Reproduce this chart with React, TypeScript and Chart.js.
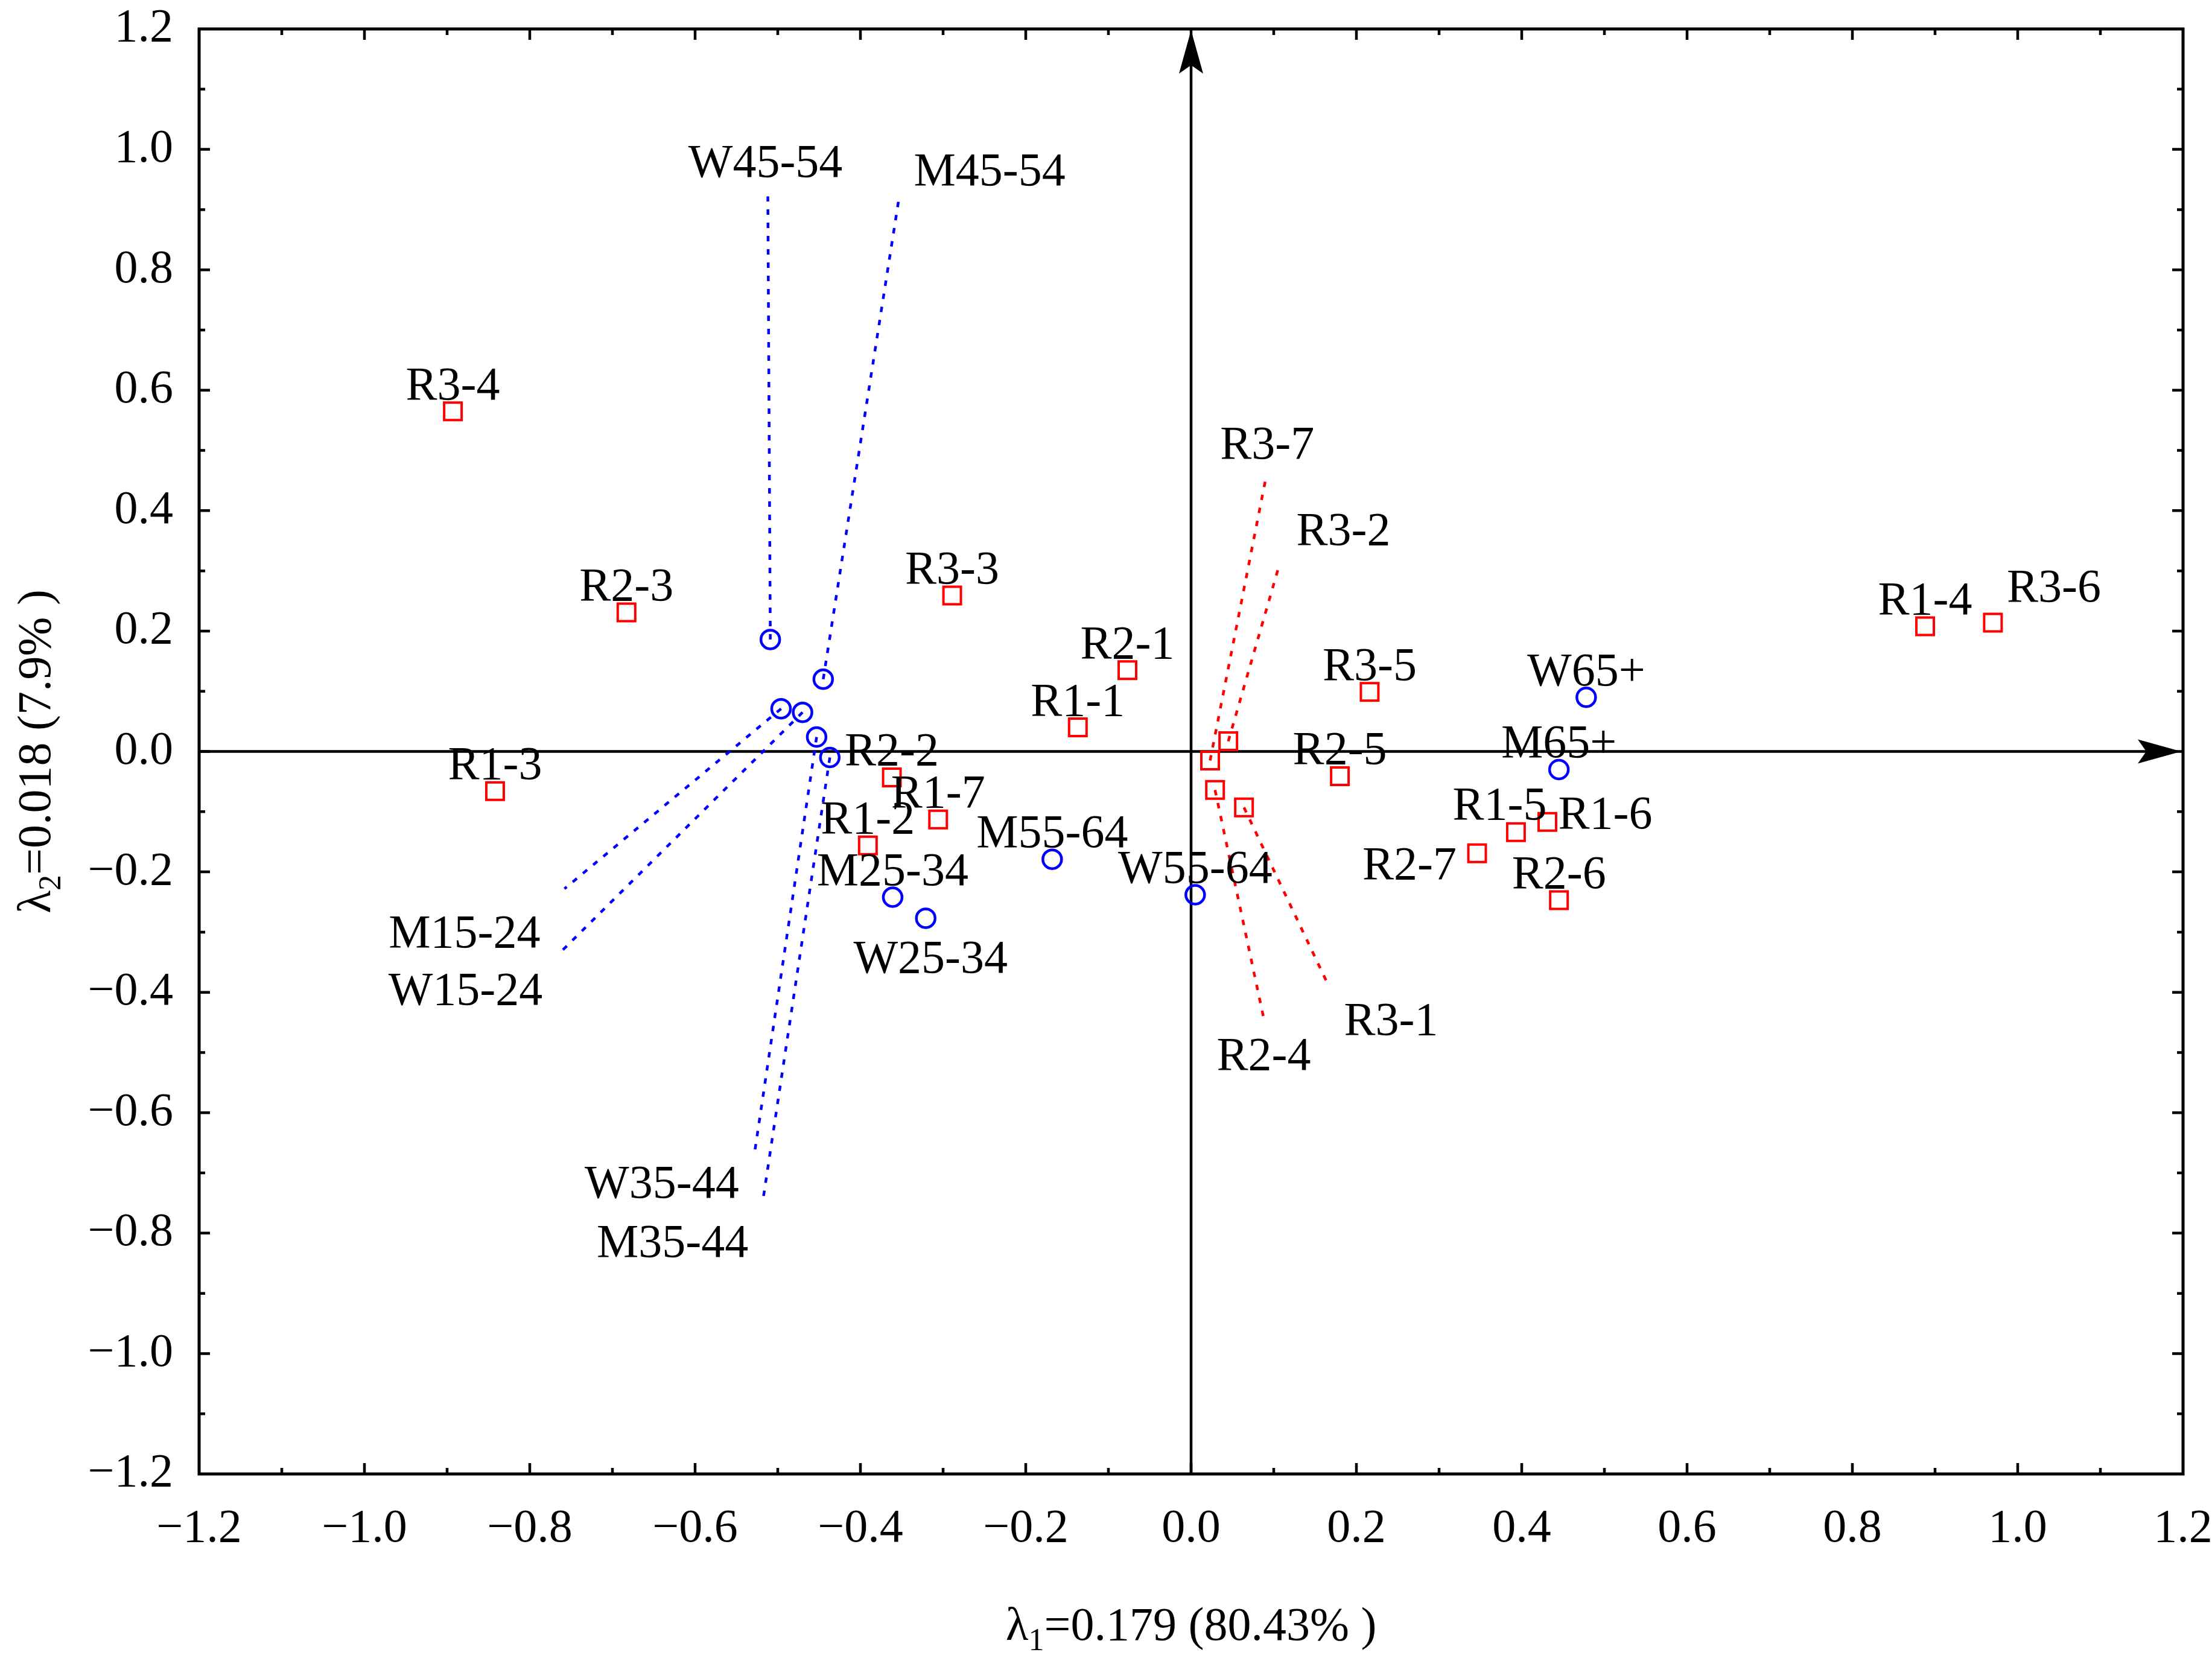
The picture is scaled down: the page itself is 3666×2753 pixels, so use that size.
import React, { useEffect, useRef } from 'react';
import { Chart, registerables } from 'chart.js';

Chart.register(...registerables);

// ---------- data ----------
const rowNames = ['R1-1','R1-2','R1-3','R1-4','R1-5','R1-6','R1-7','R2-1','R2-2','R2-3','R2-4','R2-5','R2-6','R2-7','R3-1','R3-2','R3-3','R3-4','R3-5','R3-6','R3-7'];
const rowX = [-0.137,-0.391,-0.842,0.888,0.393,0.431,-0.306,-0.077,-0.362,-0.683,0.029,0.180,0.445,0.346,0.064,0.045,-0.289,-0.893,0.216,0.970,0.023];
const rowY = [0.040,-0.156,-0.066,0.208,-0.134,-0.117,-0.113,0.135,-0.043,0.231,-0.064,-0.041,-0.247,-0.169,-0.093,0.017,0.259,0.565,0.099,0.214,-0.015];

const colNames = ['M15-24','W15-24','M25-34','W25-34','M35-44','W35-44','M45-54','W45-54','M55-64','W55-64','M65+','W65+'];
const colX = [-0.496,-0.470,-0.361,-0.321,-0.437,-0.453,-0.445,-0.509,-0.168,0.005,0.445,0.478];
const colY = [0.071,0.065,-0.242,-0.277,-0.010,0.024,0.120,0.186,-0.179,-0.238,-0.030,0.090];

// leader lines: from the point to where its label sits
const leaderNames = ['M15-24','W15-24','M35-44','W35-44','M45-54','W45-54','R2-4','R3-1','R3-2','R3-7'];
const leaderEndX = [-0.758,-0.764,-0.518,-0.528,-0.353,-0.512,0.088,0.166,0.107,0.090];
const leaderEndY = [-0.228,-0.335,-0.746,-0.666,0.922,0.922,-0.444,-0.388,0.311,0.451];

const majorTicks = [-1.2,-1.0,-0.8,-0.6,-0.4,-0.2,0,0.2,0.4,0.6,0.8,1.0,1.2];
const minorTicks = [-1.1,-0.9,-0.7,-0.5,-0.3,-0.1,0.1,0.3,0.5,0.7,0.9,1.1];

const xTitle = ['λ', '1', '=0.179 (80.43% )'];
const yTitle = ['λ', '2', '=0.018 (7.9% )'];

// ---------- styling / placement ----------
const W = 3666;
const H = 2753;
const FONT = '"Liberation Serif", "Times New Roman", serif';
const FS = 78;
const RED = '#ff0000';
const BLUE = '#0000ff';

type Place = { align: CanvasTextAlign; dx: number; dy: number };
const defaultPlace: Place = { align: 'center', dx: 0, dy: -20 };
const placements: Record<string, Place> = {
  'R3-6': { align: 'left', dx: 23, dy: -35 },
  'R1-5': { align: 'center', dx: -27, dy: -21 },
  'R1-6': { align: 'left', dx: 18, dy: 11 },
  'R2-7': { align: 'right', dx: -34, dy: 43 },
  'W25-34': { align: 'center', dx: 8, dy: 90 },
  'W45-54': { align: 'center', dx: -4, dy: -32 },
  'M45-54': { align: 'left', dx: 24, dy: -18 },
  'M15-24': { align: 'right', dx: -40, dy: 97 },
  'W15-24': { align: 'right', dx: -28, dy: 85 },
  'W35-44': { align: 'right', dx: -26, dy: 75 },
  'M35-44': { align: 'right', dx: -24, dy: 93 },
  'R3-7': { align: 'center', dx: 3, dy: -35 },
  'R3-2': { align: 'left', dx: 28, dy: -32 },
  'R2-4': { align: 'center', dx: 0, dy: 84 },
  'R3-1': { align: 'left', dx: 26, dy: 82 },
};

function fmt(v: number): string {
  const r = Math.round(v * 10) / 10;
  if (Math.abs(r) < 1e-9) return '0.0';
  return r < 0 ? '\u2212' + Math.abs(r).toFixed(1) : r.toFixed(1);
}

function pointOf(name: string): { x: number; y: number } {
  let i = rowNames.indexOf(name);
  if (i >= 0) return { x: rowX[i], y: rowY[i] };
  i = colNames.indexOf(name);
  return { x: colX[i], y: colY[i] };
}

function drawArrow(ctx: CanvasRenderingContext2D, tx: number, ty: number, angle: number) {
  ctx.save();
  ctx.translate(tx, ty);
  ctx.rotate(angle);
  ctx.beginPath();
  ctx.moveTo(0, 0);
  ctx.lineTo(-72, -20);
  ctx.lineTo(-58, 0);
  ctx.lineTo(-72, 20);
  ctx.closePath();
  ctx.fill();
  ctx.restore();
}

function drawComposite(ctx: CanvasRenderingContext2D, parts: string[], cx: number, baseY: number) {
  const main = `${FS}px ${FONT}`;
  const sub = `52px ${FONT}`;
  ctx.font = main;
  const w0 = ctx.measureText(parts[0]).width;
  const w2 = ctx.measureText(parts[2]).width;
  ctx.font = sub;
  const w1 = ctx.measureText(parts[1]).width;
  const total = w0 + w1 + w2;
  let x = cx - total / 2;
  ctx.textAlign = 'left';
  ctx.textBaseline = 'alphabetic';
  ctx.font = main;
  ctx.fillText(parts[0], x, baseY);
  x += w0;
  ctx.font = sub;
  ctx.fillText(parts[1], x, baseY + 17);
  x += w1;
  ctx.font = main;
  ctx.fillText(parts[2], x, baseY);
}

const decorPlugin = {
  id: 'decor',
  beforeDatasetsDraw(chart: any) {
    const { ctx, chartArea: a, scales } = chart;
    const x0 = scales.x.getPixelForValue(0);
    const y0 = scales.y.getPixelForValue(0);
    ctx.save();
    ctx.strokeStyle = '#000';
    ctx.fillStyle = '#000';
    ctx.lineWidth = 4.5;
    ctx.beginPath();
    ctx.moveTo(a.left, y0);
    ctx.lineTo(a.right - 40, y0);
    ctx.stroke();
    drawArrow(ctx, a.right - 3, y0, 0);
    ctx.beginPath();
    ctx.moveTo(x0, a.bottom);
    ctx.lineTo(x0, a.top + 40);
    ctx.stroke();
    drawArrow(ctx, x0, a.top + 2, -Math.PI / 2);
    ctx.restore();
  },
  afterDatasetsDraw(chart: any) {
    const { ctx, chartArea: a, scales } = chart;
    ctx.save();
    // frame
    ctx.strokeStyle = '#000';
    ctx.lineWidth = 5;
    ctx.strokeRect(a.left, a.top, a.right - a.left, a.bottom - a.top);
    // inward ticks on all four sides
    ctx.lineWidth = 4.5;
    const tickSet = (vals: number[], len: number) => {
      vals.forEach((v) => {
        if (Math.abs(Math.abs(v) - 1.2) < 1e-9) return;
        const px = scales.x.getPixelForValue(v);
        const py = scales.y.getPixelForValue(v);
        ctx.beginPath();
        ctx.moveTo(px, a.bottom); ctx.lineTo(px, a.bottom - len);
        ctx.moveTo(px, a.top); ctx.lineTo(px, a.top + len);
        ctx.moveTo(a.left, py); ctx.lineTo(a.left + len, py);
        ctx.moveTo(a.right, py); ctx.lineTo(a.right - len, py);
        ctx.stroke();
      });
    };
    tickSet(majorTicks, 18);
    tickSet(minorTicks, 10);

    // point labels
    ctx.fillStyle = '#000';
    ctx.font = `${FS}px ${FONT}`;
    ctx.textBaseline = 'alphabetic';
    const allNames = [...rowNames, ...colNames];
    allNames.forEach((name) => {
      const li = leaderNames.indexOf(name);
      const p = pointOf(name);
      const ax = li >= 0 ? leaderEndX[li] : p.x;
      const ay = li >= 0 ? leaderEndY[li] : p.y;
      const px = scales.x.getPixelForValue(ax);
      const py = scales.y.getPixelForValue(ay);
      const pl = placements[name] || defaultPlace;
      ctx.textAlign = pl.align;
      ctx.fillText(name, px + pl.dx, py + pl.dy);
    });
    ctx.restore();
  },
  afterDraw(chart: any) {
    const { ctx, chartArea: a } = chart;
    ctx.save();
    ctx.fillStyle = '#000';
    const cx = (a.left + a.right) / 2;
    drawComposite(ctx, xTitle, cx, a.bottom + 275);
    ctx.translate(a.left - 247, (a.top + a.bottom) / 2);
    ctx.rotate(-Math.PI / 2);
    drawComposite(ctx, yTitle, 0, 0);
    ctx.restore();
  },
};

const zeroPad = (s: any) => {
  s.paddingTop = 0;
  s.paddingBottom = 0;
  s.paddingLeft = 0;
  s.paddingRight = 0;
};

export default function App() {
  const ref = useRef<HTMLCanvasElement | null>(null);

  useEffect(() => {
    if (!ref.current) return;

    const leaderSets = leaderNames.map((name, i) => {
      const p = pointOf(name);
      const isRow = rowNames.indexOf(name) >= 0;
      return {
        label: 'leader ' + name,
        data: [p, { x: leaderEndX[i], y: leaderEndY[i] }],
        showLine: true,
        borderColor: isRow ? RED : BLUE,
        borderWidth: 4.5,
        borderDash: [9, 13],
        pointRadius: 0,
        fill: false,
      };
    });

    const chart = new Chart(ref.current, {
      type: 'scatter',
      data: {
        datasets: [
          ...leaderSets,
          {
            label: 'rows',
            data: rowX.map((x, i) => ({ x, y: rowY[i] })),
            pointStyle: 'rect',
            pointRadius: 20.5,
            borderColor: RED,
            backgroundColor: 'rgba(0,0,0,0)',
            borderWidth: 4,
          },
          {
            label: 'cols',
            data: colX.map((x, i) => ({ x, y: colY[i] })),
            pointStyle: 'circle',
            pointRadius: 15.5,
            borderColor: BLUE,
            backgroundColor: 'rgba(0,0,0,0)',
            borderWidth: 4.5,
          },
        ] as any,
      },
      options: {
        responsive: false,
        animation: false,
        devicePixelRatio: 1,
        layout: { padding: { top: 48, right: 48, left: 0, bottom: 0 } },
        plugins: { legend: { display: false }, tooltip: { enabled: false } },
        events: [],
        scales: {
          x: {
            type: 'linear',
            min: -1.2,
            max: 1.2,
            afterBuildTicks: (s: any) => { s.ticks = majorTicks.map((v) => ({ value: v })); },
            afterFit: (s: any) => { s.height = 310; zeroPad(s); },
            grid: { display: false },
            border: { display: false },
            ticks: {
              color: '#000',
              padding: 37,
              maxRotation: 0,
              autoSkip: false,
              font: { family: FONT, size: FS },
              callback: (v: any) => fmt(Number(v)),
            },
          },
          y: {
            type: 'linear',
            min: -1.2,
            max: 1.2,
            afterBuildTicks: (s: any) => { s.ticks = majorTicks.map((v) => ({ value: v })); },
            afterFit: (s: any) => { s.width = 330; zeroPad(s); },
            grid: { display: false },
            border: { display: false },
            ticks: {
              color: '#000',
              padding: 35,
              autoSkip: false,
              font: { family: FONT, size: FS },
              callback: (v: any) => fmt(Number(v)),
            },
          },
        },
      } as any,
      plugins: [decorPlugin],
    });

    return () => chart.destroy();
  }, []);

  return (
    <div style={{ position: 'absolute', left: 0, top: 0, width: W, height: H, background: '#fff' }}>
      <canvas ref={ref} width={W} height={H} style={{ width: W, height: H, display: 'block' }} />
    </div>
  );
}
